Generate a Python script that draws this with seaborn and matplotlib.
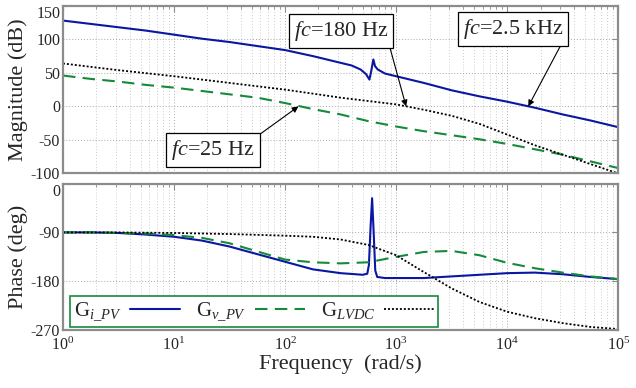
import matplotlib
matplotlib.use("Agg")
import matplotlib.pyplot as plt
import seaborn as sns
from matplotlib.ticker import LogLocator, NullFormatter, FixedLocator

# ---------------- data ----------------
freq = [1, 1.78, 3.16, 5.62, 10, 17.8, 31.6, 56.2, 100, 178, 316, 562,
        1000, 1778, 3162, 5623, 10000, 17783, 31623, 56234, 100000]

mag_gv = [46, 41, 37, 32, 28, 23, 18, 13, 5, -4, -12, -22,
          -30, -37, -43, -49, -56, -64, -72, -82, -92]
mag_glvdc = [64, 59, 54, 49.5, 45, 40, 35, 30, 25, 19, 13, 8,
             3, -5, -14, -26, -42, -58, -72, -86, -100]
ph_gv = [-90, -90, -91, -92, -95, -100, -110, -125, -140, -145, -147, -145,
         -135, -126, -124, -132, -146, -156, -164, -171, -176]
ph_glvdc = [-90, -90, -90, -90.5, -91, -92, -93, -94.5, -96, -98, -103, -113,
            -132, -163, -193, -218, -236, -248, -257, -264, -268]

freq_gi_mag = [1, 1.78, 3.16, 5.62, 10, 17.8, 31.6, 56.2, 100, 178, 316, 398,
               479, 537, 575, 596, 624, 646, 684, 794, 1000, 1778, 3162,
               5623, 10000, 17783, 31623, 56234, 100000]
mag_gi = [128, 123, 118, 113, 107, 101, 96, 90, 84, 75, 65, 61,
          55, 48, 40, 52, 70, 60, 55, 49, 45, 35, 24,
          15, 7, -2, -12, -21, -31]

freq_gi_ph = [1, 1.78, 3.16, 5.62, 10, 17.8, 31.6, 56.2, 100, 178, 316, 501,
              550, 569, 589, 608, 628, 649, 676, 794, 1000, 1778, 3162,
              5623, 10000, 17783, 31623, 56234, 100000]
ph_gi = [-90, -90, -91, -94, -98, -105, -116, -130, -144, -158, -165, -168,
         -166, -150, -80, -27, -90, -160, -172, -174, -174, -174, -171,
         -168, -165, -164, -167, -172, -176]

labels = [r"G$_{\mathit{i\_PV}}$", r"G$_{\mathit{v\_PV}}$", r"G$_{\mathit{LVDC}}$"]
annotations = [("fc", "=180 Hz", 1230, 0, 320, 113),
               ("fc", "=2.5 kHz", 15500, 0, 11300, 116),
               ("fc", "=25 Hz", 132, 0, 22.4, -65)]

# ---------------- style ----------------
sns.set_style("white")
plt.rcParams["font.family"] = ["Liberation Serif", "DejaVu Serif"]
plt.rcParams["mathtext.fontset"] = "custom"
plt.rcParams["mathtext.rm"] = "Liberation Serif"
plt.rcParams["mathtext.it"] = "Liberation Serif:italic"
plt.rcParams["mathtext.bf"] = "Liberation Serif:bold"
plt.rcParams["axes.unicode_minus"] = False

BLUE = "#0b16a3"
GREEN = "#168a3c"
BLACK = "#000000"
SPINE = "#8c8c8c"

fig = plt.figure(figsize=(6.36, 3.88), dpi=100)
ax1 = fig.add_axes([0.099, 0.553, 0.873, 0.432])
ax2 = fig.add_axes([0.099, 0.149, 0.873, 0.378])

sns.lineplot(x=freq_gi_mag, y=mag_gi, ax=ax1, color=BLUE, lw=1.5,
             estimator=None, sort=False)
sns.lineplot(x=freq, y=mag_gv, ax=ax1, color=GREEN, lw=1.5,
             estimator=None, sort=False)
sns.lineplot(x=freq, y=mag_glvdc, ax=ax1, color=BLACK, lw=1.3,
             estimator=None, sort=False)
ax1.lines[1].set_dashes((6, 3.5))
ax1.lines[2].set_dashes((1.1, 1.1))

sns.lineplot(x=freq_gi_ph, y=ph_gi, ax=ax2, color=BLUE, lw=1.5,
             estimator=None, sort=False, label=labels[0])
sns.lineplot(x=freq, y=ph_gv, ax=ax2, color=GREEN, lw=1.5,
             estimator=None, sort=False, label=labels[1])
sns.lineplot(x=freq, y=ph_glvdc, ax=ax2, color=BLACK, lw=1.3,
             estimator=None, sort=False, label=labels[2])
ax2.lines[1].set_dashes((6, 3.5))
ax2.lines[2].set_dashes((1.1, 1.1))

for ax in (ax1, ax2):
    ax.set_xscale("log")
    ax.set_xlim(1, 1e5)
    ax.xaxis.set_major_locator(LogLocator(base=10, numticks=10))
    ax.xaxis.set_minor_locator(LogLocator(base=10, subs=range(2, 10), numticks=20))
    ax.xaxis.set_minor_formatter(NullFormatter())
    ax.grid(True, which="major", color="#a8a8a8", lw=0.7, ls=(0, (1, 2)))
    ax.grid(True, which="minor", axis="x", color="#bcbcbc", lw=0.6, ls=(0, (1, 2.5)))
    for s in ax.spines.values():
        s.set_color(SPINE)
        s.set_linewidth(1.6)
    ax.tick_params(which="both", direction="in", top=True, right=True,
                   color=SPINE, labelsize=11.5, pad=2)
    ax.tick_params(axis="x", which="major", pad=5)
    ax.tick_params(which="major", length=4)
    ax.tick_params(which="minor", length=2.5)

ax1.set_ylim(-100, 150)
ax1.yaxis.set_major_locator(FixedLocator([-100, -50, 0, 50, 100, 150]))
ax1.tick_params(labelbottom=False)
ax1.set_ylabel("Magnitude (dB)", fontsize=16, labelpad=2)
ax1.set_xlabel("")

ax2.set_ylim(-270, 0)
ax2.yaxis.set_major_locator(FixedLocator([-270, -180, -90, 0]))
ax2.set_ylabel("Phase (deg)", fontsize=16, labelpad=2)
ax2.set_xlabel("Frequency  (rad/s)", fontsize=16, labelpad=0)

for pre, post, x, y, tx, ty in annotations:
    rel = (1, 0) if ty > 0 else (1, 1)
    ax1.annotate(r"$\mathit{" + pre + "}$" + post, xy=(x, y), xytext=(tx, ty),
                 fontsize=16, ha="center", va="center",
                 bbox=dict(boxstyle="square,pad=0.22", fc="white", ec="black", lw=0.9),
                 arrowprops=dict(arrowstyle="-|>", color="black", lw=0.8,
                                 mutation_scale=9, relpos=rel,
                                 shrinkA=0, shrinkB=0),
                 zorder=5)

leg = ax2.legend(loc="lower left", bbox_to_anchor=(0.0126, 0.02, 0.663, 0.198),
                 mode="expand", ncol=3, markerfirst=False, fontsize=15,
                 frameon=True, fancybox=False, handlelength=2.4,
                 borderpad=0.2, columnspacing=0.8, handletextpad=0.4,
                 borderaxespad=0)
leg.get_frame().set_edgecolor(GREEN)
leg.get_frame().set_linewidth(1.2)
leg.get_frame().set_alpha(1)

# top tick label of each panel hangs below its tick, as in the reference
fig.canvas.draw()
for ax in (ax1, ax2):
    labs = ax.get_yticklabels()
    top = max(labs, key=lambda t: t.get_position()[1])
    top.set_verticalalignment("top")
    top.set_y(top.get_position()[1])
ax1.get_yticklabels()[-1].set_va("top")
ax2.get_yticklabels()[-1].set_va("top")

fig.savefig("out.png", dpi=100)
